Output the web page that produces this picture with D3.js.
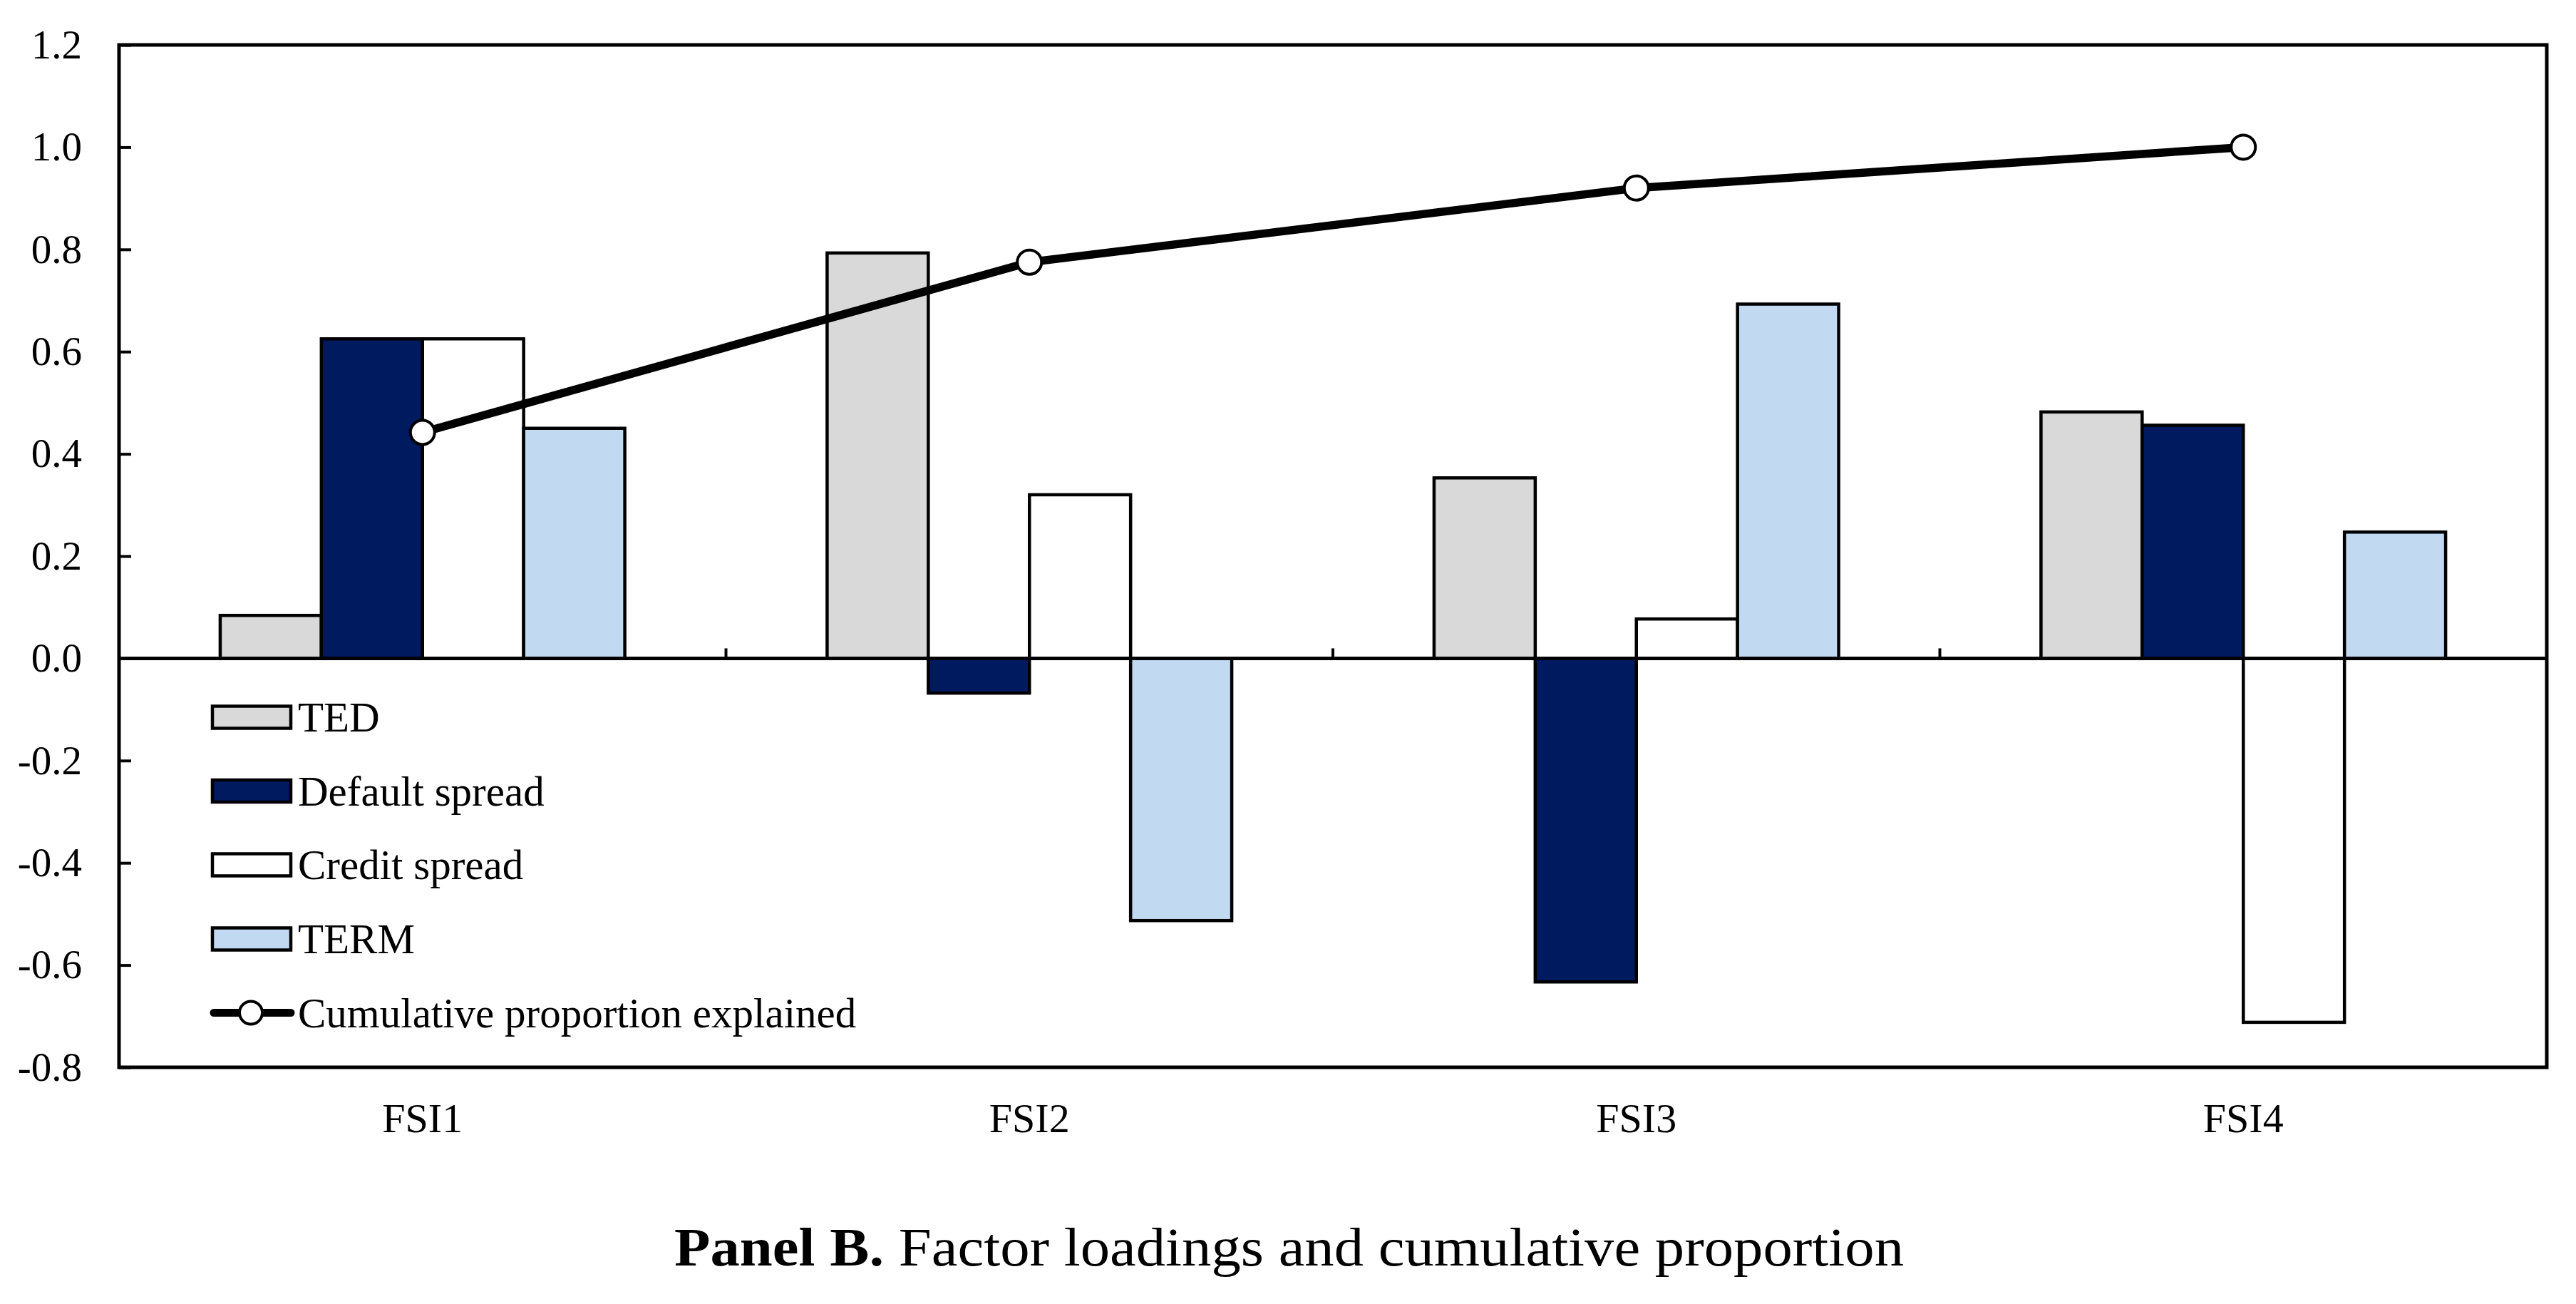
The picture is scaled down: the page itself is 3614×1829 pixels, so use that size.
<!DOCTYPE html>
<html>
<head>
<meta charset="utf-8">
<script src="https://cdn.jsdelivr.net/npm/d3@7/dist/d3.min.js"></script>
<style>
  html, body { margin: 0; padding: 0; background: #fff; }
  svg { display: block; }
  text { font-family: "Liberation Serif", "Times New Roman", serif; fill: #000; }
</style>
</head>
<body>
<svg id="chart" width="3614" height="1829"></svg>
<script>
// ---- data ----
const categories = ["FSI1", "FSI2", "FSI3", "FSI4"];
const seriesNames = ["TED", "Default spread", "Credit spread", "TERM"];
const tedValues = [0.084, 0.793, 0.353, 0.482];
const defaultSpreadValues = [0.625, -0.068, -0.633, 0.456];
const creditSpreadValues = [0.625, 0.320, 0.077, -0.712];
const termValues = [0.450, -0.513, 0.693, 0.247];
const cumulativeValues = [0.442, 0.775, 0.920, 1.0];
const lineName = "Cumulative proportion explained";
const yTickValues = [-0.8, -0.6, -0.4, -0.2, 0.0, 0.2, 0.4, 0.6, 0.8, 1.0, 1.2];
const seriesColors = ["#d9d9d9", "#001a5f", "#ffffff", "#c1daf2"];
const titleBold = "Panel B.";
const titleRest = " Factor loadings and cumulative proportion";

const seriesValues = [tedValues, defaultSpreadValues, creditSpreadValues, termValues];

// ---- layout ----
const L = 167, R = 3573, T = 63, B = 1497;
const svg = d3.select("#chart");

const x0 = d3.scaleBand().domain(categories).range([L, R]).padding(0);
const bw = x0.bandwidth();
const x1 = d3.scaleBand().domain(seriesNames).range([bw / 6, bw * 5 / 6]).padding(0);
const y = d3.scaleLinear().domain([-0.8, 1.2]).range([B, T]);

// bars
const groups = svg.append("g").selectAll("g")
  .data(categories)
  .join("g")
  .attr("transform", d => `translate(${x0(d)},0)`);

groups.selectAll("rect")
  .data((c, ci) => seriesNames.map((s, si) => ({ s, si, v: seriesValues[si][ci] })))
  .join("rect")
  .attr("x", d => x1(d.s))
  .attr("width", x1.bandwidth())
  .attr("y", d => y(Math.max(0, d.v)))
  .attr("height", d => Math.abs(y(d.v) - y(0)))
  .attr("fill", d => seriesColors[d.si])
  .attr("stroke", "#000")
  .attr("stroke-width", 4.5);

// zero line
svg.append("line")
  .attr("x1", L).attr("x2", R)
  .attr("y1", y(0)).attr("y2", y(0))
  .attr("stroke", "#000").attr("stroke-width", 5);

// category ticks on zero line (upward)
const boundaries = categories.slice(1).map(c => x0(c));
svg.append("g").selectAll("line")
  .data(boundaries)
  .join("line")
  .attr("x1", d => d).attr("x2", d => d)
  .attr("y1", y(0)).attr("y2", y(0) - 14)
  .attr("stroke", "#000").attr("stroke-width", 4);

// y axis
const yAxis = d3.axisLeft(y)
  .tickValues(yTickValues)
  .tickFormat(d => d3.format(".1f")(d).replace("\u2212", "-"))
  .tickSizeInner(-17)
  .tickSizeOuter(0)
  .tickPadding(52);
const ya = svg.append("g").attr("transform", `translate(${L},0)`).call(yAxis);
ya.select(".domain").remove();
ya.selectAll(".tick line").attr("stroke", "#000").attr("stroke-width", 4);
ya.selectAll(".tick text")
  .attr("font-size", 57)
  .attr("font-family", "Liberation Serif, serif")
  .attr("fill", "#000");

// x labels
svg.append("g").selectAll("text")
  .data(categories)
  .join("text")
  .attr("x", d => x0(d) + bw / 2)
  .attr("y", 1588)
  .attr("text-anchor", "middle")
  .attr("font-size", 58)
  .text(d => d);

// plot border
svg.append("rect")
  .attr("x", L).attr("y", T)
  .attr("width", R - L).attr("height", B - T)
  .attr("fill", "none").attr("stroke", "#000").attr("stroke-width", 5);

// cumulative line
const lineGen = d3.line()
  .x((d, i) => x0(categories[i]) + bw / 2)
  .y(d => y(d));
svg.append("path")
  .datum(cumulativeValues)
  .attr("d", lineGen)
  .attr("fill", "none")
  .attr("stroke", "#000")
  .attr("stroke-width", 11.5)
  .attr("stroke-linejoin", "round");
svg.append("g").selectAll("circle")
  .data(cumulativeValues)
  .join("circle")
  .attr("cx", (d, i) => x0(categories[i]) + bw / 2)
  .attr("cy", d => y(d))
  .attr("r", 17)
  .attr("fill", "#fff")
  .attr("stroke", "#000")
  .attr("stroke-width", 4);

// legend
const legX = 298, legW = 110, legH = 31, textX = 418;
const rowCenters = [1006, 1109.5, 1213, 1317, 1420.5];
const leg = svg.append("g");
seriesNames.forEach((s, i) => {
  leg.append("rect")
    .attr("x", legX).attr("y", rowCenters[i] - legH / 2)
    .attr("width", legW).attr("height", legH)
    .attr("fill", seriesColors[i]).attr("stroke", "#000").attr("stroke-width", 4.5);
  leg.append("text")
    .attr("x", textX).attr("y", rowCenters[i] + 20)
    .attr("font-size", 59)
    .text(s);
});
leg.append("line")
  .attr("x1", 300).attr("x2", 408)
  .attr("y1", rowCenters[4]).attr("y2", rowCenters[4])
  .attr("stroke", "#000").attr("stroke-width", 11).attr("stroke-linecap", "round");
leg.append("circle")
  .attr("cx", 352).attr("cy", rowCenters[4]).attr("r", 16)
  .attr("fill", "#fff").attr("stroke", "#000").attr("stroke-width", 4);
leg.append("text")
  .attr("x", textX).attr("y", rowCenters[4] + 20)
  .attr("font-size", 59)
  .text(lineName);

// title
const title = svg.append("text")
  .attr("x", 946).attr("y", 1775)
  .attr("text-anchor", "start")
  .attr("font-size", 76)
  .attr("textLength", 1725)
  .attr("lengthAdjust", "spacingAndGlyphs");
title.append("tspan").attr("font-weight", "bold").text(titleBold);
title.append("tspan").text(titleRest);
</script>
</body>
</html>
